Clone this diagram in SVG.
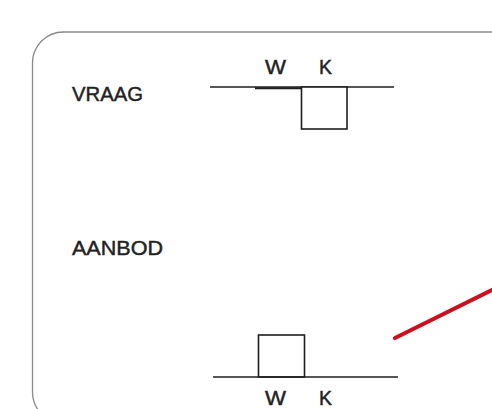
<svg xmlns="http://www.w3.org/2000/svg" width="492" height="409" viewBox="0 0 492 409">
<style>
.frame{fill:none;stroke:#8a8a8a;stroke-width:1.3}
.ln{fill:none;stroke:#1e1e1e;stroke-width:1.6}
.box{fill:#fff;stroke:#1e1e1e;stroke-width:1.6}
.lbl{font-family:"Liberation Sans",Arial,sans-serif;font-size:21px;fill:#222;stroke:#222;stroke-width:0.45}
.red{stroke:#cc0f1f;stroke-width:4;stroke-linecap:round}
</style>
<rect width="492" height="409" fill="#fff"/>
<g id="frame"><rect class="frame" x="32.5" y="32" width="520" height="391" rx="31" ry="31"/></g>
<g id="vraag">
<text class="lbl" x="72" y="101" textLength="71" lengthAdjust="spacingAndGlyphs">VRAAG</text>
<text class="lbl" x="265" y="74" textLength="21" lengthAdjust="spacingAndGlyphs">W</text>
<text class="lbl" x="319" y="74" textLength="13" lengthAdjust="spacingAndGlyphs">K</text>
<line class="ln" x1="210" y1="87" x2="394" y2="87"/>
<line x1="255" y1="88.3" x2="301" y2="88.3" stroke="#1e1e1e" stroke-width="2"/>
<rect class="box" x="301.5" y="87" width="45.5" height="42"/>
</g>
<g id="aanbod">
<text class="lbl" x="72" y="255" textLength="91" lengthAdjust="spacingAndGlyphs">AANBOD</text>
<rect class="box" x="258.5" y="335" width="46" height="42"/>
<line class="ln" x1="213" y1="377" x2="398" y2="377"/>
<text class="lbl" x="265" y="405" textLength="21" lengthAdjust="spacingAndGlyphs">W</text>
<text class="lbl" x="319" y="405" textLength="13" lengthAdjust="spacingAndGlyphs">K</text>
</g>
<g id="connectors">
<line class="red" x1="395" y1="338" x2="494" y2="289"/>
</g>
</svg>
